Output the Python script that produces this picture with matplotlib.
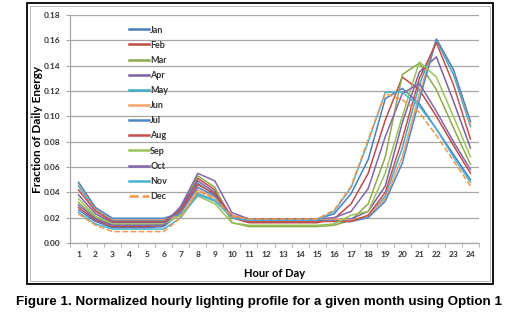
import matplotlib.pyplot as plt
import numpy as np
from matplotlib.patches import Rectangle

# hourly lighting fractions
hours = list(range(1, 25))
months = ['Jan', 'Feb', 'Mar', 'Apr', 'May', 'Jun', 'Jul', 'Aug', 'Sep', 'Oct', 'Nov', 'Dec']

jan = [0.026, 0.017, 0.012, 0.012, 0.012, 0.013, 0.024, 0.047, 0.038, 0.021, 0.018, 0.018,
       0.018, 0.018, 0.019, 0.023, 0.039, 0.066, 0.114, 0.122, 0.110, 0.090, 0.070, 0.050]
feb = [0.028, 0.018, 0.013, 0.013, 0.013, 0.014, 0.026, 0.051, 0.042, 0.020, 0.016, 0.016,
       0.016, 0.016, 0.016, 0.019, 0.031, 0.055, 0.097, 0.131, 0.121, 0.100, 0.077, 0.055]
mar = [0.032, 0.020, 0.014, 0.014, 0.014, 0.014, 0.027, 0.053, 0.044, 0.016, 0.013, 0.013,
       0.013, 0.013, 0.013, 0.014, 0.018, 0.031, 0.068, 0.133, 0.142, 0.121, 0.091, 0.062]
apr = [0.038, 0.023, 0.016, 0.016, 0.016, 0.016, 0.028, 0.049, 0.040, 0.020, 0.017, 0.017,
       0.017, 0.017, 0.017, 0.018, 0.019, 0.025, 0.045, 0.095, 0.135, 0.147, 0.112, 0.075]
may = [0.045, 0.026, 0.018, 0.018, 0.018, 0.018, 0.022, 0.039, 0.034, 0.022, 0.018, 0.018,
       0.018, 0.018, 0.018, 0.018, 0.018, 0.021, 0.037, 0.075, 0.125, 0.160, 0.133, 0.092]
jun = [0.047, 0.027, 0.019, 0.019, 0.019, 0.019, 0.021, 0.042, 0.036, 0.022, 0.019, 0.019,
       0.019, 0.019, 0.019, 0.019, 0.018, 0.021, 0.035, 0.068, 0.118, 0.161, 0.137, 0.094]
jul = [0.048, 0.028, 0.0195, 0.0195, 0.0195, 0.0195, 0.024, 0.044, 0.037, 0.021, 0.018, 0.018,
       0.018, 0.018, 0.018, 0.017, 0.017, 0.020, 0.033, 0.063, 0.113, 0.161, 0.137, 0.096]
aug = [0.042, 0.025, 0.017, 0.017, 0.017, 0.017, 0.026, 0.046, 0.039, 0.021, 0.017, 0.017,
       0.017, 0.017, 0.017, 0.017, 0.017, 0.022, 0.040, 0.082, 0.130, 0.158, 0.125, 0.082]
sep = [0.035, 0.021, 0.015, 0.015, 0.015, 0.015, 0.022, 0.037, 0.031, 0.016, 0.014, 0.014,
       0.014, 0.014, 0.014, 0.015, 0.022, 0.025, 0.055, 0.100, 0.143, 0.131, 0.100, 0.068]
oct_ = [0.030, 0.019, 0.014, 0.014, 0.014, 0.014, 0.029, 0.055, 0.049, 0.024, 0.019, 0.019,
        0.019, 0.019, 0.019, 0.020, 0.025, 0.043, 0.084, 0.118, 0.126, 0.104, 0.080, 0.058]
nov = [0.024, 0.015, 0.011, 0.011, 0.011, 0.011, 0.020, 0.038, 0.033, 0.020, 0.018, 0.018,
       0.018, 0.018, 0.018, 0.025, 0.044, 0.080, 0.119, 0.119, 0.108, 0.090, 0.068, 0.048]
dec = [0.023, 0.014, 0.009, 0.009, 0.009, 0.009, 0.020, 0.041, 0.035, 0.021, 0.019, 0.019,
       0.019, 0.019, 0.019, 0.026, 0.045, 0.082, 0.118, 0.113, 0.103, 0.085, 0.065, 0.045]

series = [jan, feb, mar, apr, may, jun, jul, aug, sep, oct_, nov, dec]
colors = ['#4A7EBB', '#BE4B48', '#8BAA4A', '#7D60A0', '#46AAC5', '#F4A26A',
          '#4F86C6', '#C8504C', '#9BC15A', '#8466AD', '#4BB3D1', '#F79646']

fig = plt.figure(figsize=(5.13, 3.31), dpi=100)

# chart frame (black with thin grey inner edge)
fig.patches.append(Rectangle((27 / 513, 1 - 284 / 331), 466 / 513, 281 / 331,
                             transform=fig.transFigure, fill=False, edgecolor='black', lw=1.3))
fig.patches.append(Rectangle((30 / 513, 1 - 281 / 331), 460 / 513, 275 / 331,
                             transform=fig.transFigure, fill=False, edgecolor='#B0B0B0', lw=0.6))

ax = fig.add_axes([70 / 513, 1 - 243 / 331, 409 / 513, 228 / 331])

for i, vals in enumerate(series):
    ls = '--' if months[i] == 'Dec' else '-'
    ax.plot(hours, vals, color=colors[i], lw=1.1, ls=ls, label=months[i])

ax.set_xlim(0.5, 24.5)
ax.set_ylim(0, 0.18)
ax.set_yticks(np.arange(0, 0.181, 0.02))
ax.set_yticklabels(['%.2f' % v for v in np.arange(0, 0.181, 0.02)])
ax.set_xticks(hours)
ax.set_xticks(np.arange(0.5, 25, 1), minor=True)
ax.grid(axis='y', color='#A6A6A6', lw=0.9)
ax.set_axisbelow(True)
for s in ['top', 'right']:
    ax.spines[s].set_visible(False)
for s in ['left', 'bottom']:
    ax.spines[s].set_color('#A6A6A6')
    ax.spines[s].set_linewidth(0.9)
ax.tick_params(axis='x', which='major', length=0, pad=6, labelsize=6, labelcolor='#333333')
ax.tick_params(axis='x', which='minor', length=3, color='#A6A6A6')
ax.tick_params(axis='y', length=3, color='#A6A6A6', labelsize=6, labelcolor='#333333', pad=4)
for lab in ax.get_xticklabels() + ax.get_yticklabels():
    lab.set_family('Lato')
    lab.set_weight('bold')

ax.set_ylabel('Fraction of Daily Energy', family='Lato', weight='bold', fontsize=8.5)
ax.yaxis.set_label_coords(-27 / 409, 0.5)
ax.set_xlabel('Hour of Day', family='Lato', weight='bold', fontsize=8)
ax.xaxis.set_label_coords(0.5, -25 / 228)

leg = ax.legend(loc='upper left', bbox_to_anchor=(124 / 513, 1 - 21 / 331),
                bbox_transform=fig.transFigure, frameon=False, fontsize=6.5,
                handlelength=2.3, handletextpad=0.1, labelspacing=0.68, borderpad=0)
for t in leg.get_texts():
    t.set_family('Lato')
    t.set_weight('bold')
    t.set_color('#333333')
for h in leg.get_lines():
    h.set_linewidth(1.8)

fig.text(259 / 513, 1 - 302 / 331,
         'Figure 1. Normalized hourly lighting profile for a given month using Option 1',
         ha='center', va='center', family='Liberation Sans', weight='bold', fontsize=9.6)

fig.savefig('out.png', dpi=100)
